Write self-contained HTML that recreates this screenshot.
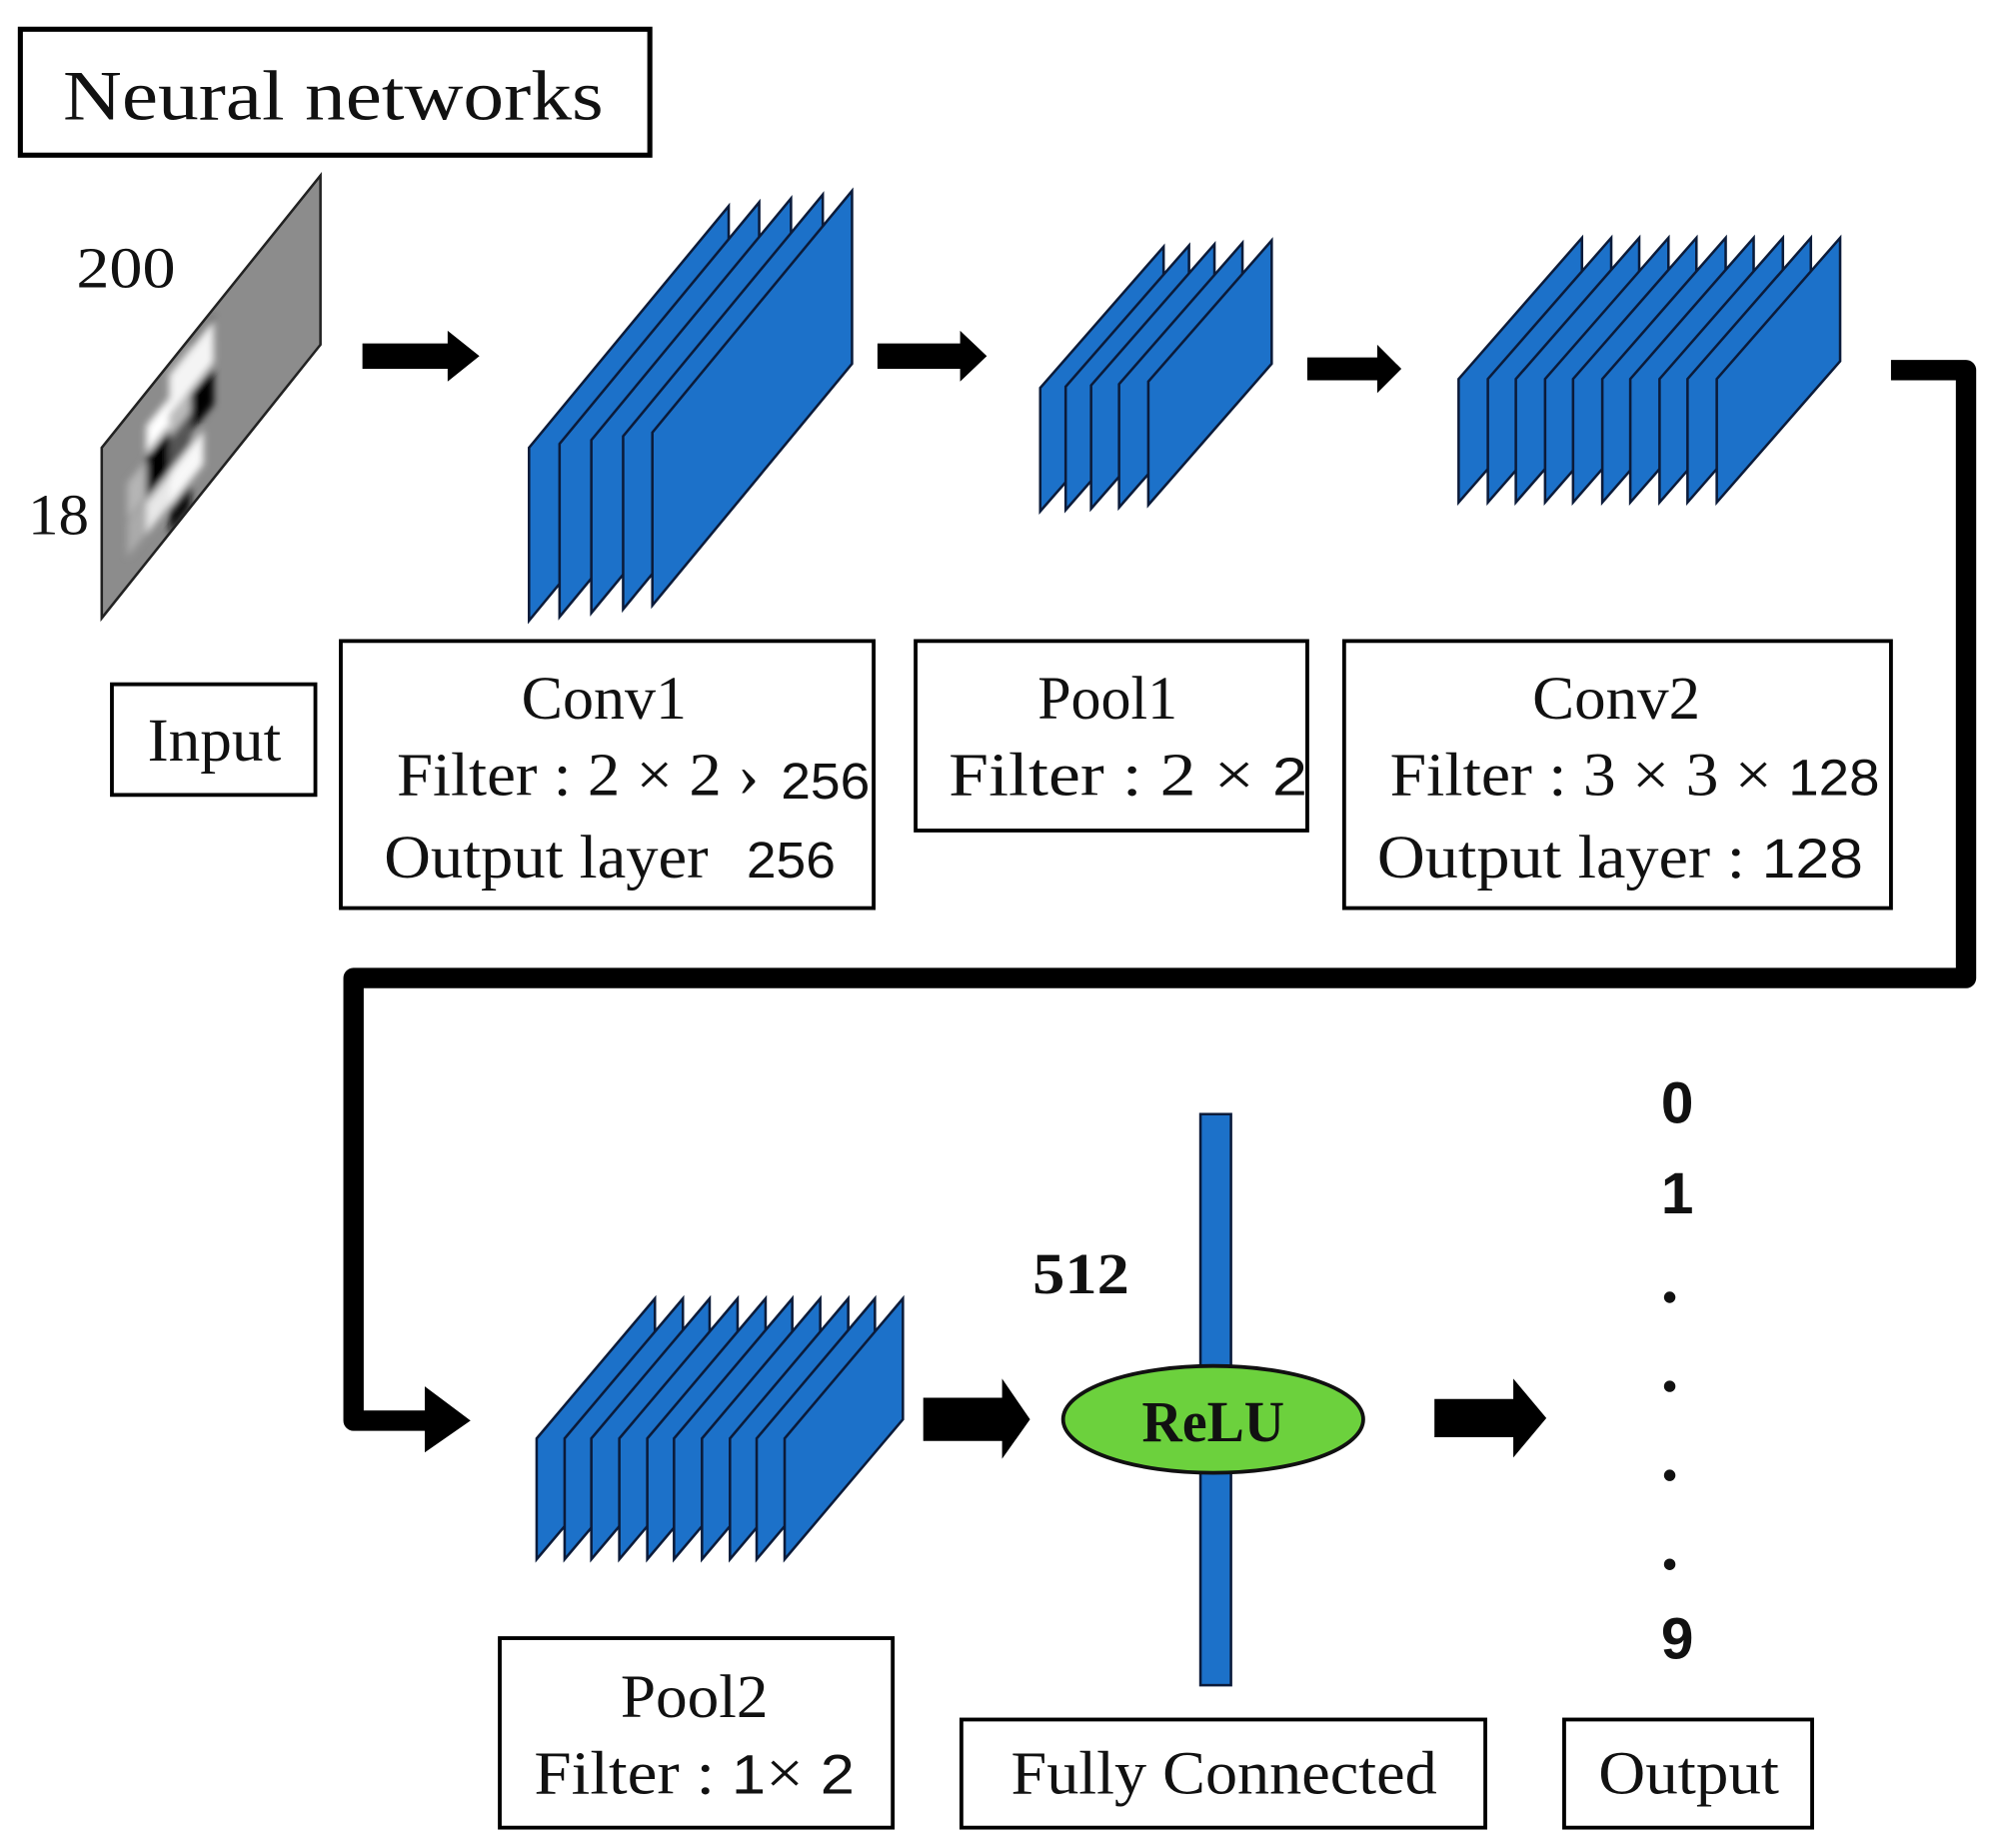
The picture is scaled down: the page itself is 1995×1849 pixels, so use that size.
<!DOCTYPE html>
<html><head><meta charset="utf-8"><style>
html,body{margin:0;padding:0;background:#fff;width:1995px;height:1849px;overflow:hidden}
svg{display:block}
.s{font-family:"Liberation Serif",serif;fill:#111}
.n{font-family:"Liberation Sans",sans-serif;fill:#111}
</style></head><body>
<svg width="1995" height="1849" viewBox="0 0 1568 1453" preserveAspectRatio="none" xmlns="http://www.w3.org/2000/svg">
<defs>
<clipPath id="cp"><polygon points="80,486 80,352 252,138 252,271"/></clipPath>
<filter id="bl"><feGaussianBlur stdDeviation="3"/></filter>
</defs>
<!-- title -->
<rect x="16" y="23" width="495" height="99" fill="#fff" stroke="#000" stroke-width="4"/>
<text x="262" y="94" class="s" font-size="56" text-anchor="middle" textLength="425" lengthAdjust="spacingAndGlyphs">Neural networks</text>
<!-- input image -->
<polygon points="80,486 80,352 252,138 252,271" fill="#8c8c8c"/>
<g clip-path="url(#cp)">
<g filter="url(#bl)">
<!-- cells: parallelograms with slope -1.25 ; helper: top y at x = 352-1.25(x-80) -->
<polygon points="150,270 168,248 168,268 150,290" fill="#000"/>
<polygon points="133,295 168,252 168,285 133,328" fill="#f4f4f4"/>
<polygon points="150,310 168,288 168,318 150,340" fill="#050505"/>
<polygon points="133,330 150,309 150,330 133,351" fill="#bbb"/>
<polygon points="115,335 133,313 133,335 115,357" fill="#fff"/>
<polygon points="115,360 133,338 133,370 115,392" fill="#000"/>
<polygon points="133,345 150,324 150,350 133,371" fill="#555"/>
<polygon points="133,372 160,338 160,365 133,399" fill="#f8f8f8"/>
<polygon points="115,395 133,373 133,398 115,420" fill="#e8e8e8"/>
<polygon points="133,400 150,379 150,400 133,421" fill="#111"/>
<polygon points="100,380 115,362 115,390 100,408" fill="#b5b5b5"/>
<polygon points="100,410 115,392 115,420 100,438" fill="#aaa"/>
</g>
</g>
<polygon points="80,486 80,352 252,138 252,271" fill="none" stroke="#222" stroke-width="2"/>
<text x="60" y="226" class="s" font-size="46" textLength="78" lengthAdjust="spacingAndGlyphs">200</text>
<text x="22" y="420" class="s" font-size="46" textLength="48" lengthAdjust="spacingAndGlyphs">18</text>
<!-- arrows -->
<g fill="#000">
<polygon points="285,270 352,270 352,260 377,280 352,300 352,290 285,290"/>
<polygon points="690,270 755,270 755,260 776,280 755,300 755,290 690,290"/>
<polygon points="1028,281 1083,281 1083,271 1102,290 1083,309 1083,299 1028,299"/>
<polygon points="726,1099 788,1099 788,1084 810,1116 788,1147 788,1133 726,1133"/>
<polygon points="1128,1100 1190,1100 1190,1084 1216,1115 1190,1146 1190,1130 1128,1130"/>
</g>
<!-- connector -->
<polyline points="1487,291 1546,291 1546,769 278,769 278,1117 340,1117" fill="none" stroke="#000" stroke-width="16" stroke-linejoin="round"/>
<polygon points="334,1090 370,1117 334,1142" fill="#000"/>
<g fill="#1c71c9" stroke="#0b1b3a" stroke-width="2">
<polygon points="416,488 416,352 573,162 573,298"/>
<polygon points="440,485 440,349 597,159 597,295"/>
<polygon points="465,482 465,346 622,156 622,292"/>
<polygon points="490,479 490,343 647,153 647,289"/>
<polygon points="513,476 513,340 670,150 670,286"/>
<polygon points="818,402 818,305 915,194 915,291"/>
<polygon points="838,401 838,304 935,193 935,290"/>
<polygon points="858,400 858,303 955,192 955,289"/>
<polygon points="880,399 880,302 977,191 977,288"/>
<polygon points="903,397 903,300 1000,189 1000,286"/>
<polygon points="1147,395 1147,298 1244,187 1244,284"/>
<polygon points="1170,395 1170,298 1267,187 1267,284"/>
<polygon points="1192,395 1192,298 1289,187 1289,284"/>
<polygon points="1215,395 1215,298 1312,187 1312,284"/>
<polygon points="1237,395 1237,298 1334,187 1334,284"/>
<polygon points="1260,395 1260,298 1357,187 1357,284"/>
<polygon points="1282,395 1282,298 1379,187 1379,284"/>
<polygon points="1305,395 1305,298 1402,187 1402,284"/>
<polygon points="1327,395 1327,298 1424,187 1424,284"/>
<polygon points="1350,395 1350,298 1447,187 1447,284"/>
<polygon points="422,1226 422,1131 515,1021 515,1116"/>
<polygon points="444,1226 444,1131 537,1021 537,1116"/>
<polygon points="465,1226 465,1131 558,1021 558,1116"/>
<polygon points="487,1226 487,1131 580,1021 580,1116"/>
<polygon points="509,1226 509,1131 602,1021 602,1116"/>
<polygon points="530,1226 530,1131 623,1021 623,1116"/>
<polygon points="552,1226 552,1131 645,1021 645,1116"/>
<polygon points="574,1226 574,1131 667,1021 667,1116"/>
<polygon points="595,1226 595,1131 688,1021 688,1116"/>
<polygon points="617,1226 617,1131 710,1021 710,1116"/>
<rect x="944" y="876" width="24" height="449"/>
</g>
<ellipse cx="954" cy="1116" rx="118" ry="42" fill="#6cd13d" stroke="#111" stroke-width="3"/>
<text x="954" y="1133" class="s" font-size="46" font-weight="bold" text-anchor="middle" textLength="112" lengthAdjust="spacingAndGlyphs">ReLU</text>
<text x="812" y="1017" class="s" font-size="46" font-weight="bold" textLength="76" lengthAdjust="spacingAndGlyphs">512</text>
<g class="n" font-size="46" font-weight="bold" text-anchor="middle">
<text x="1319" y="883">0</text>
<text x="1319" y="954">1</text>
<text x="1319" y="1304">9</text>
</g>
<g fill="#111"><circle cx="1313" cy="1020" r="4.5"/><circle cx="1313" cy="1090" r="4.5"/><circle cx="1313" cy="1160" r="4.5"/><circle cx="1313" cy="1230" r="4.5"/></g>
<g fill="none" stroke="#000" stroke-width="3">
<rect x="88" y="538" width="160" height="87"/>
<rect x="268" y="504" width="419" height="210"/>
<rect x="720" y="504" width="308" height="149"/>
<rect x="1057" y="504" width="430" height="210"/>
<rect x="393" y="1288" width="309" height="149"/>
<rect x="756" y="1352" width="412" height="85"/>
<rect x="1230" y="1352" width="195" height="85"/>
</g>
<g class="s" font-size="48">
<text x="116" y="598" textLength="105" lengthAdjust="spacingAndGlyphs">Input</text>
<text x="410" y="565" textLength="130" lengthAdjust="spacingAndGlyphs">Conv1</text>
<text x="312" y="625" textLength="285" lengthAdjust="spacingAndGlyphs">Filter : 2 × 2 ›</text>
<text x="614" y="628" class="n" font-size="40" textLength="70" lengthAdjust="spacingAndGlyphs">256</text>
<text x="302" y="690" textLength="255" lengthAdjust="spacingAndGlyphs">Output layer</text>
<text x="587" y="690" class="n" font-size="40" textLength="70" lengthAdjust="spacingAndGlyphs">256</text>
<text x="816" y="565" textLength="110" lengthAdjust="spacingAndGlyphs">Pool1</text>
<text x="746" y="625" textLength="282" lengthAdjust="spacingAndGlyphs">Filter : 2 × <tspan class="n" font-size="42">2</tspan></text>
<text x="1205" y="565" textLength="132" lengthAdjust="spacingAndGlyphs">Conv2</text>
<text x="1093" y="625" textLength="385" lengthAdjust="spacingAndGlyphs">Filter : 3 × 3 × <tspan class="n" font-size="40">128</tspan></text>
<text x="1083" y="690" textLength="382" lengthAdjust="spacingAndGlyphs">Output layer : <tspan class="n" font-size="44">128</tspan></text>
<text x="488" y="1350" textLength="116" lengthAdjust="spacingAndGlyphs">Pool2</text>
<text x="420" y="1410" textLength="252" lengthAdjust="spacingAndGlyphs">Filter : <tspan class="n" font-size="44">1</tspan>× <tspan class="n" font-size="44">2</tspan></text>
<text x="795" y="1410" textLength="335" lengthAdjust="spacingAndGlyphs">Fully Connected</text>
<text x="1257" y="1410" textLength="142" lengthAdjust="spacingAndGlyphs">Output</text>
</g>
</svg>
</body></html>
